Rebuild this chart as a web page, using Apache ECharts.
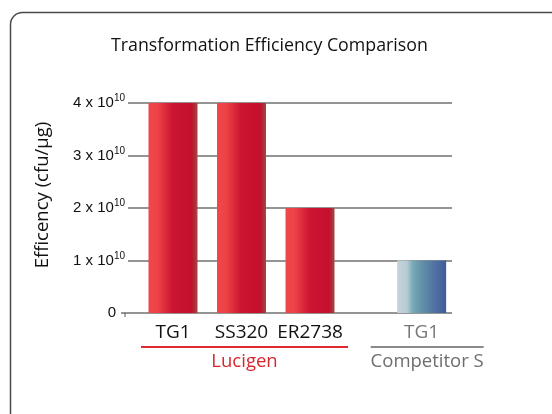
<!DOCTYPE html>
<html><head><meta charset="utf-8">
<script src="https://cdn.jsdelivr.net/npm/echarts@6/dist/echarts.min.js"></script>
<style>html,body{margin:0;padding:0;background:#fff}#c{width:552px;height:414px}</style>
</head><body><div id="c"></div>
<script>
// ---- data ----
var strains = ['TG1', 'SS320', 'ER2738', 'TG1'];
var groupOf = ['Lucigen', 'Lucigen', 'Lucigen', 'Competitor S'];
var slot = [0, 1, 2, 3.63];               // category layout slot along the x axis
var efficiency = [4e10, 4e10, 2e10, 1e10];
var yTicks = [0, 1e10, 2e10, 3e10, 4e10];
var groups = ['Lucigen', 'Competitor S'];

var redGrad = {type:'linear',x:0,y:0,x2:1,y2:0,colorStops:[
  {offset:0,color:'#f1474a'},{offset:0.18,color:'#ee4246'},{offset:0.5,color:'#cb1531'},
  {offset:0.88,color:'#c4102e'},{offset:0.94,color:'#ad2c36'},{offset:1,color:'#9e4c46'}]};
var blueGrad = {type:'linear',x:0,y:0,x2:1,y2:0,colorStops:[
  {offset:0,color:'#c3d3db'},{offset:0.2,color:'#b8cbd3'},{offset:0.32,color:'#78a9b6'},
  {offset:0.5,color:'#6291aa'},{offset:0.75,color:'#5274a2'},{offset:1,color:'#3e5a9b'}]};
var groupColor = {'Lucigen':'#d9262e','Competitor S':'#6e6e6e'};
var labelColor = {'Lucigen':'#111','Competitor S':'#777'};
var lineColor = {'Lucigen':'#e02a30','Competitor S':'#8a8a8a'};
var FONT = 'Open Sans';

var barData = strains.map(function(s,i){
  return {value:[slot[i], efficiency[i]], name:s,
    itemStyle:{color: groupOf[i]==='Lucigen'?redGrad:blueGrad},
    label:{color: labelColor[groupOf[i]]}};
});

var groupData = groups.map(function(g,gi){
  var xs = slot.filter(function(_,i){return groupOf[i]===g;});
  return [Math.min.apply(null,xs), Math.max.apply(null,xs), gi];
});

var chart = echarts.init(document.getElementById('c'));
chart.setOption({
  animation:false,
  title:{text:'Transformation Efficiency Comparison',left:106,top:32,
    textStyle:{fontFamily:FONT,fontWeight:'normal',fontSize:17.8,color:'#111'}},
  grid:{left:128,right:100,top:103,bottom:101},
  xAxis:{type:'value',min:-0.657,max:4.073,show:true,
    axisLine:{show:false},axisTick:{show:false},axisLabel:{show:false},splitLine:{show:false}},
  yAxis:{type:'value',min:0,max:4e10,interval:1e10,
    name:'Efficency (cfu/µg)',nameLocation:'middle',nameGap:76,
    nameTextStyle:{fontFamily:FONT,fontSize:18.5,color:'#111',padding:[0,0,0,26]},
    axisLine:{show:false},axisTick:{show:false},
    splitLine:{lineStyle:{color:'#707070',width:1.5}},
    axisLabel:{margin:3,
      formatter:function(v){
        if(v===0) return '{z|0}';
        return '{n|'+(v/1e10)+' x 10}{s|10}';
      },
      rich:{
        n:{fontFamily:'Liberation Sans',fontSize:15,color:'#111'},
        s:{fontFamily:'Liberation Sans',fontSize:10,color:'#111',padding:[0,0,9,0]},
        z:{fontFamily:'Liberation Sans',fontSize:15,color:'#111',padding:[0,9,0,0]}
      }}},
  series:[
    {type:'bar',barWidth:49,data:barData,
     label:{show:true,position:'bottom',distance:10,formatter:'{b}',
       fontFamily:FONT,fontSize:19}},
    {type:'custom',clip:false,silent:true,data:groupData,
     renderItem:function(params,api){
       var g = groups[api.value(2)];
       var p0 = api.coord([api.value(0),0]);
       var p1 = api.coord([api.value(1),0]);
       var pad = g==='Lucigen'?[32,38]:[51,62];
       var y = p0[1]+34;
       return {type:'group',children:[
         {type:'line',shape:{x1:p0[0]-pad[0],y1:y,x2:p1[0]+pad[1],y2:y},
          style:{stroke:lineColor[g],lineWidth:2}},
         {type:'text',style:{text:g,x:(p0[0]-pad[0]+p1[0]+pad[1])/2,y:y+15,
          align:'center',verticalAlign:'middle',fill:groupColor[g],
          font:'18.5px "'+FONT+'"'}}
       ]};
     }}
  ]
});

var z0 = chart.convertToPixel({gridIndex:0},[-0.657,0]);
chart.setOption({graphic:[
  {type:'rect',shape:{x:10.5,y:12.5,width:620,height:500,r:12},
   style:{fill:'none',stroke:'#4a4a4a',lineWidth:1.5},z:-1},
  {type:'line',shape:{x1:z0[0]-7,y1:z0[1],x2:z0[0],y2:z0[1]},style:{stroke:'#707070',lineWidth:1.5}},
  {type:'line',shape:{x1:z0[0]-3,y1:z0[1],x2:z0[0]-3,y2:z0[1]+4},style:{stroke:'#555',lineWidth:1}}
]});
</script></body></html>
